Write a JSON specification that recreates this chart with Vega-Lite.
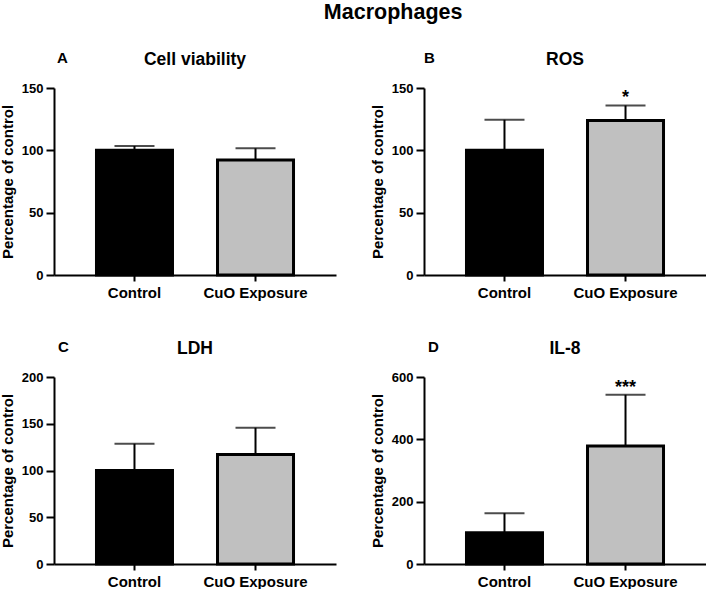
{
  "$schema": "https://vega.github.io/schema/vega-lite/v6.json",
  "padding": {"left": 0, "top": 2, "right": 0, "bottom": 0},
  "title": {"text": "Macrophages", "fontSize": 21.5, "anchor": "middle", "dx": 40, "offset": 27},
  "datasets": {
    "A": [
      {"group": "Control", "mean": 100, "upper": 103.5, "sig": ""},
      {"group": "CuO Exposure", "mean": 92.3, "upper": 101.6, "sig": ""}
    ],
    "B": [
      {"group": "Control", "mean": 100, "upper": 124.5, "sig": ""},
      {"group": "CuO Exposure", "mean": 124, "upper": 136, "sig": "*"}
    ],
    "C": [
      {"group": "Control", "mean": 100, "upper": 128.6, "sig": ""},
      {"group": "CuO Exposure", "mean": 117, "upper": 145.7, "sig": ""}
    ],
    "D": [
      {"group": "Control", "mean": 100, "upper": 163, "sig": ""},
      {"group": "CuO Exposure", "mean": 379, "upper": 543, "sig": "***"}
    ]
  },
  "config": {
    "font": "Liberation Sans",
    "view": {"stroke": null},
    "axis": {"domainColor": "black", "domainWidth": 2, "tickColor": "black", "tickWidth": 2, "labelColor": "black", "labelFontWeight": "bold", "titleColor": "black", "titleFontWeight": "bold", "grid": false, "labelFont": "Liberation Sans", "titleFont": "Liberation Sans"},
    "axisX": {"labelFontSize": 15, "tickSize": 6, "labelPadding": 4, "labelAngle": 0, "title": null},
    "axisY": {"labelFontSize": 13, "tickSize": 8, "labelPadding": 3, "titleFontSize": 15, "titlePadding": 6},
    "title": {"font": "Liberation Sans", "fontWeight": "bold", "color": "black", "fontSize": 17.5},
    "scale": {"bandPaddingInner": 0.372, "bandPaddingOuter": 0.351}
  },
  "spacing": 39,
  "vconcat": [
    {
      "spacing": 34,
      "hconcat": [
        {
          "title": {"text": "A", "anchor": "start", "frame": "group", "offset": -15.5, "dx": 3, "fontSize": 15},
          "hconcat": [
            {
              "width": 282, "height": 187,
              "title": {"text": "Cell viability", "anchor": "middle", "frame": "group", "offset": 14},
              "data": {"name": "A"},
              "encoding": {"x": {"field": "group", "type": "nominal", "sort": null, "title": null}},
              "layer": [
                {"mark": {"type": "rule", "strokeWidth": 2, "color": "black"}, "encoding": {"y": {"field": "mean", "type": "quantitative", "title": "Percentage of control", "scale": {"domain": [0, 150], "nice": false}, "axis": {"values": [0, 50, 100, 150]}}, "y2": {"field": "upper"}}},
                {"mark": {"type": "tick", "thickness": 2, "size": 40, "color": "black"}, "encoding": {"y": {"field": "upper", "type": "quantitative", "title": "Percentage of control"}}},
                {"mark": {"type": "bar", "stroke": "black", "strokeWidth": 3}, "encoding": {"y": {"field": "mean", "type": "quantitative", "title": "Percentage of control"}, "fill": {"field": "group", "type": "nominal", "scale": {"range": ["black", "#c0c0c0"]}, "legend": null}}},
                {"mark": {"type": "text", "fontSize": 18, "fontWeight": "bold", "baseline": "alphabetic", "dy": -2, "color": "black"}, "encoding": {"y": {"field": "upper", "type": "quantitative", "title": "Percentage of control"}, "text": {"field": "sig"}}}
              ]
            }
          ]
        },
        {
          "title": {"text": "B", "anchor": "start", "frame": "group", "offset": -15.5, "dx": 0, "fontSize": 15},
          "hconcat": [
            {
              "width": 282, "height": 187,
              "title": {"text": "ROS", "anchor": "middle", "frame": "group", "offset": 14},
              "data": {"name": "B"},
              "encoding": {"x": {"field": "group", "type": "nominal", "sort": null, "title": null}},
              "layer": [
                {"mark": {"type": "rule", "strokeWidth": 2, "color": "black"}, "encoding": {"y": {"field": "mean", "type": "quantitative", "title": "Percentage of control", "scale": {"domain": [0, 150], "nice": false}, "axis": {"values": [0, 50, 100, 150]}}, "y2": {"field": "upper"}}},
                {"mark": {"type": "tick", "thickness": 2, "size": 40, "color": "black"}, "encoding": {"y": {"field": "upper", "type": "quantitative", "title": "Percentage of control"}}},
                {"mark": {"type": "bar", "stroke": "black", "strokeWidth": 3}, "encoding": {"y": {"field": "mean", "type": "quantitative", "title": "Percentage of control"}, "fill": {"field": "group", "type": "nominal", "scale": {"range": ["black", "#c0c0c0"]}, "legend": null}}},
                {"mark": {"type": "text", "fontSize": 18, "fontWeight": "bold", "baseline": "alphabetic", "dy": -2, "color": "black"}, "encoding": {"y": {"field": "upper", "type": "quantitative", "title": "Percentage of control"}, "text": {"field": "sig"}}}
              ]
            }
          ]
        }
      ]
    },
    {
      "spacing": 34,
      "hconcat": [
        {
          "title": {"text": "C", "anchor": "start", "frame": "group", "offset": -15.5, "dx": 4, "fontSize": 15},
          "hconcat": [
            {
              "width": 282, "height": 187,
              "title": {"text": "LDH", "anchor": "middle", "frame": "group", "offset": 14},
              "data": {"name": "C"},
              "encoding": {"x": {"field": "group", "type": "nominal", "sort": null, "title": null}},
              "layer": [
                {"mark": {"type": "rule", "strokeWidth": 2, "color": "black"}, "encoding": {"y": {"field": "mean", "type": "quantitative", "title": "Percentage of control", "scale": {"domain": [0, 200], "nice": false}, "axis": {"values": [0, 50, 100, 150, 200]}}, "y2": {"field": "upper"}}},
                {"mark": {"type": "tick", "thickness": 2, "size": 40, "color": "black"}, "encoding": {"y": {"field": "upper", "type": "quantitative", "title": "Percentage of control"}}},
                {"mark": {"type": "bar", "stroke": "black", "strokeWidth": 3}, "encoding": {"y": {"field": "mean", "type": "quantitative", "title": "Percentage of control"}, "fill": {"field": "group", "type": "nominal", "scale": {"range": ["black", "#c0c0c0"]}, "legend": null}}},
                {"mark": {"type": "text", "fontSize": 18, "fontWeight": "bold", "baseline": "alphabetic", "dy": -2, "color": "black"}, "encoding": {"y": {"field": "upper", "type": "quantitative", "title": "Percentage of control"}, "text": {"field": "sig"}}}
              ]
            }
          ]
        },
        {
          "title": {"text": "D", "anchor": "start", "frame": "group", "offset": -15.5, "dx": 4, "fontSize": 15},
          "hconcat": [
            {
              "width": 282, "height": 187,
              "title": {"text": "IL-8", "anchor": "middle", "frame": "group", "offset": 14},
              "data": {"name": "D"},
              "encoding": {"x": {"field": "group", "type": "nominal", "sort": null, "title": null}},
              "layer": [
                {"mark": {"type": "rule", "strokeWidth": 2, "color": "black"}, "encoding": {"y": {"field": "mean", "type": "quantitative", "title": "Percentage of control", "scale": {"domain": [0, 600], "nice": false}, "axis": {"values": [0, 200, 400, 600]}}, "y2": {"field": "upper"}}},
                {"mark": {"type": "tick", "thickness": 2, "size": 40, "color": "black"}, "encoding": {"y": {"field": "upper", "type": "quantitative", "title": "Percentage of control"}}},
                {"mark": {"type": "bar", "stroke": "black", "strokeWidth": 3}, "encoding": {"y": {"field": "mean", "type": "quantitative", "title": "Percentage of control"}, "fill": {"field": "group", "type": "nominal", "scale": {"range": ["black", "#c0c0c0"]}, "legend": null}}},
                {"mark": {"type": "text", "fontSize": 18, "fontWeight": "bold", "baseline": "alphabetic", "dy": -2, "color": "black"}, "encoding": {"y": {"field": "upper", "type": "quantitative", "title": "Percentage of control"}, "text": {"field": "sig"}}}
              ]
            }
          ]
        }
      ]
    }
  ]
}
